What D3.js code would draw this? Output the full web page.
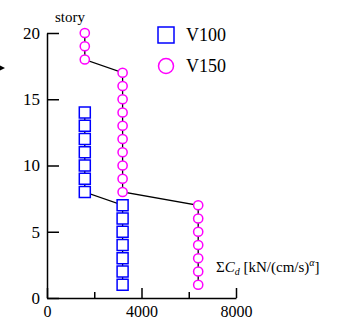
<!DOCTYPE html>
<html>
<head>
<meta charset="utf-8">
<script src="https://cdn.jsdelivr.net/npm/d3@7"></script>
<style>
  body { margin: 0; background: #fff; }
</style>
</head>
<body>
<div id="chart"></div>
<script>
const width = 344;
const height = 322;
const serif = "'Liberation Serif', 'Times New Roman', serif";

// data
const storiesV100 = [1, 2, 3, 4, 5, 6, 7, 8, 9, 10, 11, 12, 13, 14];
const valuesV100 = [3200, 3200, 3200, 3200, 3200, 3200, 3200, 1600, 1600, 1600, 1600, 1600, 1600, 1600];
const storiesV150 = [1, 2, 3, 4, 5, 6, 7, 8, 9, 10, 11, 12, 13, 14, 15, 16, 17, 18, 19, 20];
const valuesV150 = [6400, 6400, 6400, 6400, 6400, 6400, 6400, 3200, 3200, 3200, 3200, 3200, 3200, 3200, 3200, 3200, 3200, 1600, 1600, 1600];
const xMajorTicks = [0, 4000, 8000];
const xMinorTicks = [2000, 6000];
const yTicks = [0, 5, 10, 15, 20];

const svg = d3.select("#chart")
    .append("svg")
    .attr("width", width)
    .attr("height", height)
    .attr("font-family", serif);

const x = d3.scaleLinear().domain([0, 8000]).range([47, 236]);
const y = d3.scaleLinear().domain([0, 20]).range([298, 33]);

// axes
const xAxis = svg.append("g")
    .attr("transform", `translate(0,${y(0)})`)
    .call(d3.axisBottom(x).tickValues(xMajorTicks).tickFormat(d3.format("d"))
        .tickSizeInner(-10).tickSizeOuter(0).tickPadding(8));
xAxis.selectAll("text").attr("font-family", serif).attr("font-size", 16).attr("fill", "#000");

svg.append("g")
    .attr("transform", `translate(0,${y(0)})`)
    .call(d3.axisBottom(x).tickValues(xMinorTicks).tickSizeInner(-6).tickSizeOuter(0).tickFormat(""))
    .select(".domain").remove();

const yAxis = svg.append("g")
    .attr("transform", `translate(${x(0)},0)`)
    .call(d3.axisLeft(y).tickValues(yTicks).tickSizeInner(-12).tickSizeOuter(0).tickPadding(7));
yAxis.selectAll("text").attr("font-family", serif).attr("font-size", 17).attr("fill", "#000");

svg.selectAll(".domain, .tick line").attr("stroke", "#000").attr("stroke-width", 1.5);

// series
const line = d3.line().x(d => x(d[0])).y(d => y(d[1]));

const v100 = valuesV100.map((v, i) => [v, storiesV100[i]]);
const v150 = valuesV150.map((v, i) => [v, storiesV150[i]]);

svg.append("path").datum(v100).attr("d", line)
    .attr("fill", "none").attr("stroke", "#000").attr("stroke-width", 1.3);
svg.append("path").datum(v150).attr("d", line)
    .attr("fill", "none").attr("stroke", "#000").attr("stroke-width", 1.3);

const sq = 11;
svg.selectAll(".sq").data(v100).enter().append("rect")
    .attr("x", d => x(d[0]) - sq / 2)
    .attr("y", d => y(d[1]) - sq / 2)
    .attr("width", sq).attr("height", sq)
    .attr("fill", "#fff").attr("stroke", "#0000ff").attr("stroke-width", 1.5);

svg.selectAll(".ci").data(v150).enter().append("circle")
    .attr("cx", d => x(d[0]))
    .attr("cy", d => y(d[1]))
    .attr("r", 4.6)
    .attr("fill", "#fff").attr("stroke", "#ff00ff").attr("stroke-width", 1.5);

// legend
svg.append("rect").attr("x", 158).attr("y", 27).attr("width", 16).attr("height", 16)
    .attr("fill", "none").attr("stroke", "#0000ff").attr("stroke-width", 1.5);
svg.append("text").attr("x", 186).attr("y", 41).attr("font-size", 18).text("V100");
svg.append("circle").attr("cx", 166).attr("cy", 66).attr("r", 7.5)
    .attr("fill", "none").attr("stroke", "#ff00ff").attr("stroke-width", 1.5);
svg.append("text").attr("x", 186).attr("y", 72).attr("font-size", 18).text("V150");

// axis titles
svg.append("text").attr("x", 55).attr("y", 22).attr("font-size", 15).text("story");

const xl = svg.append("text").attr("x", 216).attr("y", 272).attr("font-size", 15);
xl.append("tspan").text("\u03A3");
xl.append("tspan").attr("font-style", "italic").text("C");
xl.append("tspan").attr("font-style", "italic").attr("font-size", 10).attr("dy", 3).text("d");
xl.append("tspan").attr("dy", -3).text(" [kN/(cm/s)");
xl.append("tspan").attr("font-style", "italic").attr("font-size", 10).attr("dy", -6).text("\u03B1");
xl.append("tspan").attr("dy", 6).text("]");

// small arrow tip at left edge
svg.append("path").attr("d", "M0,65.5 L5,68 L0,70.5 Z").attr("fill", "#000");
</script>
</body>
</html>
